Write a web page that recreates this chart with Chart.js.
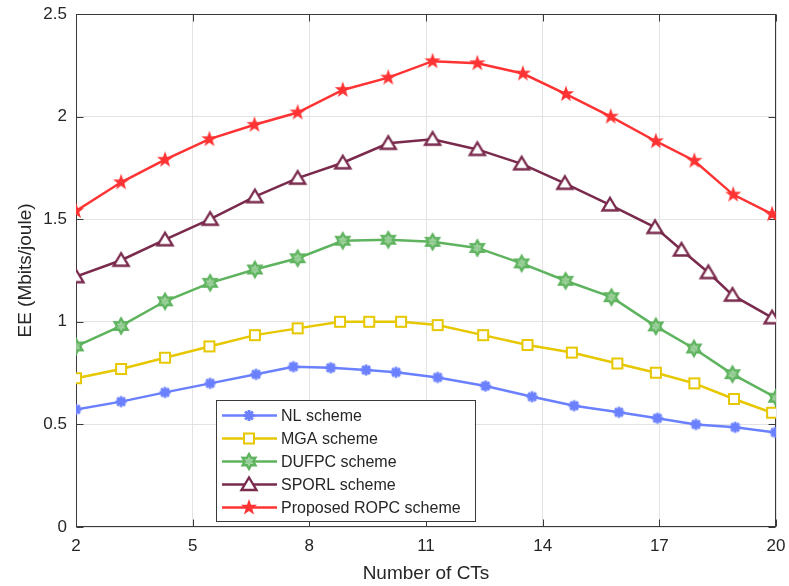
<!DOCTYPE html>
<html>
<head>
<meta charset="utf-8">
<script src="https://cdn.jsdelivr.net/npm/chart.js@4.4.1/dist/chart.umd.min.js"></script>
<style>
  html, body { margin: 0; padding: 0; background: #ffffff; }
  #wrap { width: 789px; height: 586px; }
</style>
</head>
<body>
<div id="wrap"><canvas id="c" width="789" height="586"></canvas></div>
<script>
// Energy efficiency versus number of CTs, five schemes
const seriesNames = ['NL scheme', 'MGA scheme', 'DUFPC scheme', 'SPORL scheme', 'Proposed ROPC scheme'];

const nlX = [2, 3.16, 4.29, 5.45, 6.63, 7.59, 8.55, 9.46, 10.23, 11.3, 12.53, 13.73, 14.81, 15.96, 16.95, 17.94, 18.95, 19.98];
const nlY = [0.573, 0.611, 0.656, 0.70, 0.744, 0.781, 0.776, 0.765, 0.754, 0.729, 0.687, 0.635, 0.591, 0.559, 0.53, 0.50, 0.486, 0.461];

const mgaX = [2, 3.16, 4.29, 5.43, 6.60, 7.70, 8.79, 9.54, 10.36, 11.3, 12.47, 13.61, 14.75, 15.92, 16.91, 17.90, 18.92, 19.9];
const mgaY = [0.725, 0.77, 0.825, 0.88, 0.935, 0.968, 1.0, 1.0, 1.0, 0.984, 0.935, 0.887, 0.85, 0.797, 0.752, 0.70, 0.624, 0.557];

const dufpcX = [2, 3.16, 4.29, 5.45, 6.60, 7.70, 8.86, 10.03, 11.17, 12.32, 13.46, 14.59, 15.77, 16.91, 17.89, 18.88, 20];
const dufpcY = [0.88, 0.98, 1.10, 1.19, 1.255, 1.31, 1.395, 1.40, 1.39, 1.36, 1.285, 1.20, 1.12, 0.978, 0.87, 0.745, 0.63];

const sporlX = [2, 3.16, 4.29, 5.45, 6.60, 7.70, 8.86, 10.03, 11.17, 12.32, 13.46, 14.57, 15.73, 16.89, 17.57, 18.26, 18.88, 19.9];
const sporlY = [1.22, 1.30, 1.40, 1.50, 1.61, 1.70, 1.775, 1.87, 1.89, 1.84, 1.77, 1.675, 1.57, 1.46, 1.35, 1.24, 1.13, 1.02];

const ropcX = [2, 3.16, 4.29, 5.43, 6.59, 7.70, 8.86, 10.03, 11.17, 12.32, 13.49, 14.60, 15.75, 16.91, 17.90, 18.90, 19.9];
const ropcY = [1.54, 1.68, 1.79, 1.89, 1.96, 2.02, 2.13, 2.19, 2.27, 2.26, 2.21, 2.11, 2.00, 1.88, 1.785, 1.62, 1.525];

const xTicks = [2, 5, 8, 11, 14, 17, 20];
const yTicks = [0, 0.5, 1, 1.5, 2, 2.5];
const yTickLabels = ['0', '0.5', '1', '1.5', '2', '2.5'];

const FONT = "'Liberation Sans', Arial, Helvetica, sans-serif";
const TEXT = '#262626';
const AXIS = '#3a3a3a';

const styles = [
  { color: '#6a80ff', marker: 'asterisk' },
  { color: '#e6c700', marker: 'square' },
  { color: '#5eb35e', marker: 'hexagram' },
  { color: '#7a2b4d', marker: 'triangle' },
  { color: '#ff3333', marker: 'pentagram' }
];

function starPath(ctx, x, y, n, rOut, rIn) {
  for (let k = 0; k < 2 * n; k++) {
    const r = k % 2 === 0 ? rOut : rIn;
    const a = -Math.PI / 2 + k * Math.PI / n;
    const px = x + r * Math.cos(a), py = y + r * Math.sin(a);
    if (k === 0) ctx.moveTo(px, py); else ctx.lineTo(px, py);
  }
  ctx.closePath();
}

function drawMarker(ctx, kind, x, y, color) {
  ctx.save();
  ctx.strokeStyle = color;
  ctx.fillStyle = color;
  ctx.lineWidth = 2;
  ctx.lineJoin = 'miter';
  ctx.beginPath();
  if (kind === 'asterisk') {
    const r = 5.5;
    for (let k = 0; k < 4; k++) {
      const a = k * Math.PI / 4;
      ctx.moveTo(x + r * Math.cos(a), y + r * Math.sin(a));
      ctx.lineTo(x - r * Math.cos(a), y - r * Math.sin(a));
    }
    ctx.lineWidth = 2.8;
    ctx.stroke();
  } else if (kind === 'square') {
    ctx.rect(x - 5, y - 5, 10, 10);
    ctx.fillStyle = '#ffffff';
    ctx.fill();
    ctx.stroke();
  } else if (kind === 'hexagram') {
    starPath(ctx, x, y, 6, 7.5, 4.3);
    ctx.fillStyle = 'rgba(150, 205, 150, 0.9)';
    ctx.fill();
    ctx.lineWidth = 2.3;
    ctx.stroke();
  } else if (kind === 'triangle') {
    ctx.moveTo(x, y - 7);
    ctx.lineTo(x + 7.5, y + 5.5);
    ctx.lineTo(x - 7.5, y + 5.5);
    ctx.closePath();
    ctx.fillStyle = '#ffffff';
    ctx.fill();
    ctx.lineWidth = 2.4;
    ctx.stroke();
  } else if (kind === 'pentagram') {
    starPath(ctx, x, y, 5, 8.5, 3.4);
    ctx.fill();
  }
  ctx.restore();
}

function markerCanvas(kind, color) {
  const cv = document.createElement('canvas');
  cv.width = 22; cv.height = 22;
  drawMarker(cv.getContext('2d'), kind, 11, 11, color);
  return cv;
}

const xs = [nlX, mgaX, dufpcX, sporlX, ropcX];
const ys = [nlY, mgaY, dufpcY, sporlY, ropcY];

const datasets = seriesNames.map((name, i) => ({
  label: name,
  data: xs[i].map((x, j) => ({ x: x, y: ys[i][j] })),
  borderColor: styles[i].color,
  backgroundColor: styles[i].color,
  borderWidth: 2.5,
  pointStyle: markerCanvas(styles[i].marker, styles[i].color),
  pointRadius: 6,
  pointHoverRadius: 6,
  tension: 0,
  fill: false,
  order: seriesNames.length - i
}));

// Box around the axes with MATLAB-style inward ticks
const framePlugin = {
  id: 'frame',
  beforeDatasetsDraw(chart) {
    const { ctx, chartArea: a, scales } = chart;
    ctx.save();
    ctx.strokeStyle = AXIS;
    ctx.lineWidth = 1;
    const L = Math.round(a.left) + 0.5, R = Math.round(a.right) - 0.5;
    const T = Math.round(a.top) + 0.5, B = Math.round(a.bottom) - 0.5;
    ctx.strokeRect(L, T, R - L, B - T);
    ctx.beginPath();
    const tl = 7;
    xTicks.forEach(v => {
      const px = Math.round(scales.x.getPixelForValue(v)) + 0.5;
      ctx.moveTo(px, B); ctx.lineTo(px, B - tl);
      ctx.moveTo(px, T); ctx.lineTo(px, T + tl);
    });
    yTicks.forEach(v => {
      const py = Math.round(scales.y.getPixelForValue(v)) + 0.5;
      ctx.moveTo(L, py); ctx.lineTo(L + tl, py);
      ctx.moveTo(R, py); ctx.lineTo(R - tl, py);
    });
    ctx.stroke();
    ctx.restore();
  }
};

// Legend box inside the plot, line sample with marker in the middle
const legendBoxPlugin = {
  id: 'legendBox',
  afterDraw(chart) {
    const { ctx, chartArea: a } = chart;
    ctx.save();
    ctx.font = '16px ' + FONT;
    const textW = Math.max(...seriesNames.map(s => ctx.measureText(s).width));
    const left = a.left + 140, bottom = a.bottom - 6;
    const rowH = 23, n = seriesNames.length;
    const height = rowH * n + 6;
    const top = bottom - height;
    const width = 65 + textW + 14;
    ctx.fillStyle = '#ffffff';
    ctx.fillRect(left, top, width, height);
    ctx.strokeStyle = AXIS;
    ctx.lineWidth = 1;
    ctx.strokeRect(Math.round(left) + 0.5, Math.round(top) + 0.5, Math.round(width), Math.round(height));
    seriesNames.forEach((name, i) => {
      const cy = top + 15.5 + i * rowH;
      ctx.strokeStyle = styles[i].color;
      ctx.lineWidth = 2.5;
      ctx.beginPath();
      ctx.moveTo(left + 6, cy);
      ctx.lineTo(left + 61, cy);
      ctx.stroke();
      drawMarker(ctx, styles[i].marker, left + 33, cy, styles[i].color);
      ctx.fillStyle = TEXT;
      ctx.textAlign = 'left';
      ctx.textBaseline = 'middle';
      ctx.fillText(name, left + 65, cy + 1);
    });
    ctx.restore();
  }
};

new Chart(document.getElementById('c'), {
  type: 'line',
  data: { datasets: datasets },
  plugins: [framePlugin, legendBoxPlugin],
  options: {
    responsive: false,
    devicePixelRatio: 1,
    animation: false,
    layout: { padding: { left: 0, right: 13, top: 14, bottom: 0 } },
    plugins: { legend: { display: false }, tooltip: { enabled: false } },
    scales: {
      x: {
        type: 'linear',
        min: 2, max: 20,
        afterBuildTicks: s => { s.ticks = xTicks.map(v => ({ value: v })); },
        afterFit: s => { s.height = 59; s.paddingLeft = 0; s.paddingRight = 0; },
        grid: { color: '#e3e3e3', lineWidth: 1, drawTicks: false },
        border: { display: false },
        ticks: { color: TEXT, font: { family: FONT, size: 17 }, padding: 9, maxRotation: 0,
                 callback: v => String(v) },
        title: { display: true, text: 'Number of CTs', color: TEXT,
                 font: { family: FONT, size: 19 }, padding: { top: 0, bottom: 1 } }
      },
      y: {
        type: 'linear',
        min: 0, max: 2.5,
        afterBuildTicks: s => { s.ticks = yTicks.map(v => ({ value: v })); },
        afterFit: s => { s.width = 76; s.paddingTop = 0; s.paddingBottom = 0; },
        grid: { color: '#e3e3e3', lineWidth: 1, drawTicks: false },
        border: { display: false },
        ticks: { color: TEXT, font: { family: FONT, size: 17 }, padding: 9,
                 callback: (v) => yTickLabels[yTicks.indexOf(v)] },
        title: { display: true, text: 'EE (Mbits/joule)', color: TEXT,
                 font: { family: FONT, size: 19 }, padding: { top: 14, bottom: 0 } }
      }
    }
  }
});
</script>
</body>
</html>
